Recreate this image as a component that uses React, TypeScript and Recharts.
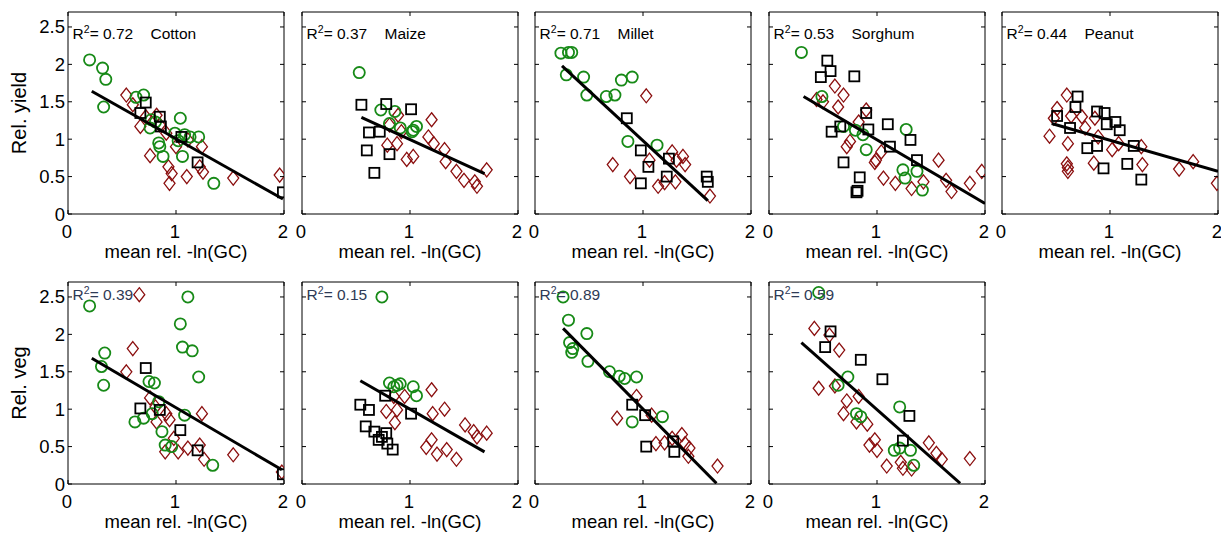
import React from 'react';
import { ScatterChart, Scatter, XAxis, YAxis, ReferenceArea } from 'recharts';

type Pt = [number, number];

// ---------- Data (x = mean rel. -ln(GC), y = relative yield / veg) ----------
const cropNames = ['Cotton', 'Maize', 'Millet', 'Sorghum', 'Peanut'];
const r2Yield = ['0.72', '0.37', '0.71', '0.53', '0.44'];
const r2Veg = ['0.39', '0.15', '0.89', '0.59'];
const xTicks = [0, 1, 2];
const yTicks = [0, 0.5, 1, 1.5, 2, 2.5];
const xDomain: [number, number] = [0, 2];
const yDomain: [number, number] = [0, 2.7];

// Cotton – yield
const cottonYieldGreen: Pt[] = [[0.20, 2.06], [0.32, 1.95], [0.35, 1.80], [0.33, 1.43], [0.63, 1.56], [0.70, 1.59], [0.77, 1.26], [0.81, 1.23], [0.76, 1.15], [0.84, 0.95], [0.85, 0.90], [0.88, 0.77], [1.04, 1.28], [0.99, 1.08], [1.08, 1.06], [1.13, 1.03], [1.21, 1.03], [1.06, 0.77], [1.35, 0.41], [1.02, 0.98]];
const cottonYieldBlack: Pt[] = [[0.72, 1.49], [0.67, 1.35], [0.85, 1.30], [0.86, 1.17], [1.05, 1.03], [1.20, 0.69], [1.99, 0.29]];
const cottonYieldRed: Pt[] = [[0.54, 1.59], [0.60, 1.46], [0.67, 1.17], [0.72, 1.30], [0.82, 1.32], [0.76, 0.78], [0.93, 0.63], [0.96, 0.54], [0.94, 0.41], [1.00, 0.90], [1.10, 0.50], [1.22, 0.63], [1.25, 0.56], [1.24, 0.90], [1.53, 0.48], [1.96, 0.52], [0.91, 1.08], [0.85, 1.19], [1.11, 0.99]];
const cottonYieldFit: Pt[] = [[0.22, 1.64], [1.99, 0.20]];

// Maize – yield
const maizeYieldGreen: Pt[] = [[0.53, 1.89], [0.73, 1.39], [0.86, 1.37], [0.81, 1.21], [0.91, 1.15], [1.03, 1.12], [1.06, 1.17], [1.02, 1.10]];
const maizeYieldBlack: Pt[] = [[0.55, 1.46], [0.78, 1.47], [1.01, 1.40], [0.62, 1.09], [0.72, 1.10], [0.60, 0.85], [0.81, 0.80], [0.67, 0.55]];
const maizeYieldRed: Pt[] = [[0.81, 1.19], [0.89, 1.32], [0.79, 0.92], [0.88, 0.94], [0.97, 0.73], [1.03, 0.77], [1.20, 1.26], [1.17, 1.03], [1.22, 0.94], [1.32, 0.86], [1.33, 0.70], [1.43, 0.57], [1.50, 0.45], [1.60, 0.43], [1.62, 0.37], [1.71, 0.59], [0.92, 1.10]];
const maizeYieldFit: Pt[] = [[0.55, 1.29], [1.69, 0.54]];

// Millet – yield
const milletYieldGreen: Pt[] = [[0.24, 2.15], [0.31, 2.16], [0.34, 2.16], [0.29, 1.86], [0.45, 1.83], [0.48, 1.59], [0.66, 1.57], [0.74, 1.59], [0.80, 1.79], [0.90, 1.83], [0.86, 0.97], [1.13, 0.92]];
const milletYieldBlack: Pt[] = [[0.85, 1.28], [0.98, 0.85], [1.05, 0.63], [0.98, 0.41], [1.24, 0.74], [1.22, 0.50], [1.59, 0.50], [1.60, 0.43]];
const milletYieldRed: Pt[] = [[1.03, 1.58], [0.72, 0.66], [0.88, 0.50], [1.06, 0.72], [1.14, 0.37], [1.20, 0.42], [1.27, 0.83], [1.31, 0.72], [1.37, 0.77], [1.39, 0.66], [1.30, 0.43], [1.62, 0.24]];
const milletYieldFit: Pt[] = [[0.25, 1.98], [1.60, 0.18]];

// Sorghum – yield
const sorghumYieldGreen: Pt[] = [[0.30, 2.16], [0.49, 1.57], [0.69, 1.17], [0.80, 1.12], [0.87, 1.06], [0.90, 0.86], [1.27, 1.13], [1.24, 0.59], [1.26, 0.48], [1.37, 0.57], [1.42, 0.32]];
const sorghumYieldBlack: Pt[] = [[0.54, 2.05], [0.57, 1.91], [0.48, 1.83], [0.79, 1.84], [0.90, 1.35], [0.66, 1.17], [0.58, 1.10], [0.92, 1.13], [1.10, 1.20], [1.12, 0.90], [1.31, 0.99], [1.37, 0.72], [0.69, 0.69], [0.84, 0.49], [0.81, 0.29], [0.82, 0.31]];
const sorghumYieldRed: Pt[] = [[0.44, 1.53], [0.50, 1.50], [0.61, 1.71], [0.69, 1.59], [0.64, 1.43], [0.90, 1.39], [0.83, 1.23], [0.75, 0.97], [0.72, 0.90], [0.99, 0.72], [0.98, 0.69], [1.04, 0.83], [1.06, 0.48], [1.17, 0.41], [1.32, 0.34], [1.43, 0.43], [1.57, 0.72], [1.64, 0.45], [1.69, 0.30], [1.86, 0.41], [1.97, 0.57]];
const sorghumYieldFit: Pt[] = [[0.32, 1.57], [2.00, 0.14]];

// Peanut – yield
const peanutYieldGreen: Pt[] = [];
const peanutYieldBlack: Pt[] = [[0.51, 1.31], [0.70, 1.57], [0.68, 1.43], [0.63, 1.15], [0.88, 1.37], [0.95, 1.35], [0.97, 1.20], [1.05, 1.23], [1.09, 1.12], [0.88, 0.91], [0.79, 0.88], [1.22, 0.91], [0.94, 0.61], [1.16, 0.67], [1.29, 0.46]];
const peanutYieldRed: Pt[] = [[0.60, 1.59], [0.51, 1.41], [0.48, 1.28], [0.44, 1.04], [0.64, 1.31], [0.74, 1.30], [0.77, 1.15], [0.86, 1.28], [0.61, 0.94], [0.60, 0.67], [0.61, 0.57], [0.61, 0.62], [0.85, 0.68], [1.02, 0.86], [1.08, 0.94], [0.89, 1.03], [1.29, 0.90], [1.30, 0.66], [1.64, 0.60], [1.77, 0.70], [1.99, 0.41]];
const peanutYieldFit: Pt[] = [[0.46, 1.21], [2.00, 0.57]];

// Cotton – veg
const cottonVegGreen: Pt[] = [[0.20, 2.38], [0.34, 1.75], [0.31, 1.57], [0.33, 1.32], [1.11, 2.50], [1.04, 2.14], [1.06, 1.83], [1.15, 1.78], [1.21, 1.43], [0.75, 1.37], [0.80, 1.35], [0.62, 0.83], [0.70, 0.88], [0.78, 0.94], [0.84, 1.10], [0.87, 0.70], [0.90, 0.52], [0.96, 0.50], [1.08, 0.92], [1.34, 0.25]];
const cottonVegBlack: Pt[] = [[0.72, 1.55], [0.67, 1.01], [0.85, 0.99], [1.04, 0.72], [1.20, 0.45], [1.99, 0.13]];
const cottonVegRed: Pt[] = [[0.66, 2.53], [0.60, 1.81], [0.54, 1.50], [0.76, 1.15], [0.81, 1.03], [0.82, 0.83], [0.91, 0.94], [0.94, 0.86], [0.90, 0.43], [1.02, 0.43], [1.11, 0.48], [1.22, 0.52], [1.26, 0.33], [1.24, 0.94], [1.53, 0.39], [1.98, 0.16], [0.98, 0.61]];
const cottonVegFit: Pt[] = [[0.22, 1.68], [1.98, 0.19]];

// Maize – veg
const maizeVegGreen: Pt[] = [[0.74, 2.50], [0.81, 1.35], [0.88, 1.32], [0.91, 1.34], [1.03, 1.30], [1.06, 1.18], [0.85, 1.30]];
const maizeVegBlack: Pt[] = [[0.54, 1.06], [0.62, 0.99], [0.59, 0.77], [0.67, 0.70], [0.71, 0.59], [0.78, 0.68], [0.79, 0.54], [0.84, 0.46], [0.77, 1.18], [1.01, 0.94], [0.74, 0.63]];
const maizeVegRed: Pt[] = [[0.78, 0.97], [0.85, 1.17], [0.86, 0.82], [0.88, 0.99], [0.95, 1.17], [1.20, 1.26], [1.21, 0.94], [1.32, 1.00], [1.51, 0.79], [1.59, 0.70], [1.62, 0.63], [1.71, 0.68], [1.15, 0.49], [1.20, 0.59], [1.25, 0.40], [1.34, 0.46], [1.43, 0.33]];
const maizeVegFit: Pt[] = [[0.54, 1.38], [1.69, 0.43]];

// Millet – veg
const milletVegGreen: Pt[] = [[0.26, 2.50], [0.31, 2.19], [0.48, 2.01], [0.32, 1.89], [0.35, 1.81], [0.49, 1.64], [0.69, 1.50], [0.78, 1.44], [0.83, 1.41], [0.94, 1.43], [0.90, 0.83], [1.18, 0.90], [0.34, 1.76]];
const milletVegBlack: Pt[] = [[0.90, 1.06], [1.02, 0.92], [1.03, 0.50], [1.28, 0.57], [1.29, 0.43]];
const milletVegRed: Pt[] = [[0.94, 1.17], [0.76, 0.88], [1.08, 0.92], [1.12, 0.54], [1.20, 0.55], [1.27, 0.61], [1.36, 0.66], [1.39, 0.54], [1.43, 0.48], [1.42, 0.37], [1.69, 0.24]];
const milletVegFit: Pt[] = [[0.26, 2.08], [1.68, 0.01]];

// Sorghum – veg
const sorghumVegGreen: Pt[] = [[0.46, 2.56], [0.73, 1.43], [0.64, 1.32], [0.81, 0.94], [0.85, 0.90], [1.21, 1.03], [1.16, 0.45], [1.21, 0.48], [1.31, 0.45], [1.34, 0.25]];
const sorghumVegBlack: Pt[] = [[0.57, 2.04], [0.52, 1.83], [0.85, 1.66], [1.05, 1.40], [1.30, 0.91], [1.24, 0.58]];
const sorghumVegRed: Pt[] = [[0.42, 2.08], [0.56, 1.99], [0.65, 1.79], [0.46, 1.28], [0.61, 1.31], [0.72, 1.11], [0.69, 0.94], [0.83, 1.17], [0.81, 0.83], [0.91, 0.80], [0.98, 0.59], [0.93, 0.52], [1.00, 0.45], [1.09, 0.24], [1.22, 0.29], [1.24, 0.21], [1.32, 0.20], [1.48, 0.55], [1.55, 0.41], [1.60, 0.33], [1.86, 0.34]];
const sorghumVegFit: Pt[] = [[0.30, 1.89], [1.77, 0.01]];

// ---------- Layout / style ----------
const FONT = '"Liberation Sans", Arial, Helvetica, sans-serif';
const GREEN = '#178a17';
const RED = '#8b0f0f';
const PLOT_W = 216;
const PLOT_H = 202;
const AXIS_W = 68;
const AXIS_H = 50;
const TOP = 12;
const RIGHT = 14;
const CHART_W = AXIS_W + PLOT_W + RIGHT;
const CHART_H = TOP + PLOT_H + AXIS_H;
const COL_LEFT = [0, 234, 467, 701, 934];
const ROW_TOP = [0, 270];
const X_TITLE = 'mean rel. -ln(GC)';
const TICK_FS = 18.5;

const toXY = (pts: Pt[]) => pts.map(([x, y]) => ({ x, y }));

const CircleShape = (p: any) => (
  <circle cx={p.cx} cy={p.cy} r={5.6} fill="none" stroke={GREEN} strokeWidth={1.8} />
);
const SquareShape = (p: any) => (
  <rect x={p.cx - 5} y={p.cy - 5} width={10} height={10} fill="none" stroke="#000" strokeWidth={1.8} />
);
const DiamondShape = (p: any) => (
  <polygon
    points={`${p.cx},${p.cy - 7} ${p.cx + 5.5},${p.cy} ${p.cx},${p.cy + 7} ${p.cx - 5.5},${p.cy}`}
    fill="none"
    stroke={RED}
    strokeWidth={1.3}
  />
);
const NoShape = () => <g />;

const XTick = (p: any) => {
  const { x, y, payload } = p;
  return (
    <g>
      <line x1={x} y1={y} x2={x} y2={y - 4} stroke="#000" strokeWidth={1} />
      <line x1={x} y1={y - PLOT_H} x2={x} y2={y - PLOT_H + 4} stroke="#000" strokeWidth={1} />
      <text x={x - 1} y={y + 23.5} textAnchor="middle" fontSize={TICK_FS} fontFamily={FONT} fill="#000">
        {payload.value}
      </text>
    </g>
  );
};

const makeYTick = (showLabel: boolean) => (p: any) => {
  const { x, y, payload } = p;
  return (
    <g>
      <line x1={x} y1={y} x2={x + 4} y2={y} stroke="#000" strokeWidth={1} />
      <line x1={x + PLOT_W - 4} y1={y} x2={x + PLOT_W} y2={y} stroke="#000" strokeWidth={1} />
      {showLabel && (
        <text x={x - 3} y={y} textAnchor="end" dominantBaseline="central" fontSize={TICK_FS} fontFamily={FONT} fill="#000">
          {payload.value}
        </text>
      )}
    </g>
  );
};

type PanelProps = {
  row: number;
  col: number;
  green: Pt[];
  black: Pt[];
  red: Pt[];
  fit: Pt[];
  r2: string;
  crop?: string;
  yTitle?: string;
  labelColor: string;
  labelDy: number;
};

function Panel({ row, col, green, black, red, fit, r2, crop, yTitle, labelColor, labelDy }: PanelProps) {
  const labelX = AXIS_W + 4.6;
  const labelY = TOP + labelDy;
  return (
    <div style={{ position: 'absolute', left: COL_LEFT[col], top: ROW_TOP[row], width: CHART_W, height: CHART_H }}>
      <ScatterChart width={CHART_W} height={CHART_H} margin={{ top: TOP, right: RIGHT, bottom: 0, left: 0 }}>
        <XAxis
          type="number"
          dataKey="x"
          domain={xDomain}
          ticks={xTicks}
          interval={0}
          allowDataOverflow
          height={AXIS_H}
          tickSize={0}
          tickMargin={0}
          axisLine={false}
          tickLine={false}
          tick={XTick}
          label={{
            value: X_TITLE,
            position: 'insideBottom',
            offset: 6,
            fill: '#000',
            fontSize: 18.5,
            fontFamily: FONT,
          }}
        />
        <YAxis
          type="number"
          dataKey="y"
          domain={yDomain}
          ticks={yTicks}
          interval={0}
          allowDataOverflow
          width={AXIS_W}
          tickSize={0}
          tickMargin={0}
          axisLine={false}
          tickLine={false}
          tick={makeYTick(col === 0)}
          label={
            yTitle
              ? {
                  value: yTitle,
                  angle: -90,
                  position: 'insideLeft',
                  offset: 19,
                  fill: '#000',
                  fontSize: 20,
                  fontFamily: FONT,
                  style: { textAnchor: 'middle' },
                }
              : undefined
          }
        />
        <ReferenceArea x1={0} x2={2} y1={0} y2={2.7} fill="none" fillOpacity={0} stroke="#000" strokeWidth={1} ifOverflow="visible" />
        <Scatter data={toXY(red)} shape={DiamondShape} isAnimationActive={false} />
        <Scatter data={toXY(green)} shape={CircleShape} isAnimationActive={false} />
        <Scatter data={toXY(black)} shape={SquareShape} isAnimationActive={false} />
        <Scatter
          data={toXY(fit)}
          shape={NoShape}
          line={{ stroke: '#000', strokeWidth: 3 }}
          lineType="joint"
          isAnimationActive={false}
        />
      </ScatterChart>
      <svg
        width={CHART_W}
        height={CHART_H}
        style={{ position: 'absolute', left: 0, top: 0, pointerEvents: 'none' }}
      >
        <text x={labelX} y={labelY} fontSize={15.5} fontFamily={FONT} fill={labelColor}>
          R
          <tspan dy={-6} fontSize={10.5}>2</tspan>
          <tspan dy={6}>= {r2}</tspan>
          {crop && <tspan x={AXIS_W + 82.5}>{crop}</tspan>}
        </text>
      </svg>
    </div>
  );
}

const yieldPanels = [
  { green: cottonYieldGreen, black: cottonYieldBlack, red: cottonYieldRed, fit: cottonYieldFit },
  { green: maizeYieldGreen, black: maizeYieldBlack, red: maizeYieldRed, fit: maizeYieldFit },
  { green: milletYieldGreen, black: milletYieldBlack, red: milletYieldRed, fit: milletYieldFit },
  { green: sorghumYieldGreen, black: sorghumYieldBlack, red: sorghumYieldRed, fit: sorghumYieldFit },
  { green: peanutYieldGreen, black: peanutYieldBlack, red: peanutYieldRed, fit: peanutYieldFit },
];
const vegPanels = [
  { green: cottonVegGreen, black: cottonVegBlack, red: cottonVegRed, fit: cottonVegFit },
  { green: maizeVegGreen, black: maizeVegBlack, red: maizeVegRed, fit: maizeVegFit },
  { green: milletVegGreen, black: milletVegBlack, red: milletVegRed, fit: milletVegFit },
  { green: sorghumVegGreen, black: sorghumVegBlack, red: sorghumVegRed, fit: sorghumVegFit },
];

export default function App() {
  return (
    <div
      style={{
        position: 'absolute',
        left: 0,
        top: 0,
        width: 1221,
        height: 533,
        overflow: 'hidden',
        background: '#fff',
        fontFamily: FONT,
      }}
    >
      {yieldPanels.map((p, i) => (
        <Panel
          key={`y${i}`}
          row={0}
          col={i}
          {...p}
          r2={r2Yield[i]}
          crop={cropNames[i]}
          yTitle={i === 0 ? 'Rel. yield' : undefined}
          labelColor="#000"
          labelDy={27}
        />
      ))}
      {vegPanels.map((p, i) => (
        <Panel
          key={`v${i}`}
          row={1}
          col={i}
          {...p}
          r2={r2Veg[i]}
          yTitle={i === 0 ? 'Rel. veg' : undefined}
          labelColor="#2e3a55"
          labelDy={18}
        />
      ))}
    </div>
  );
}
